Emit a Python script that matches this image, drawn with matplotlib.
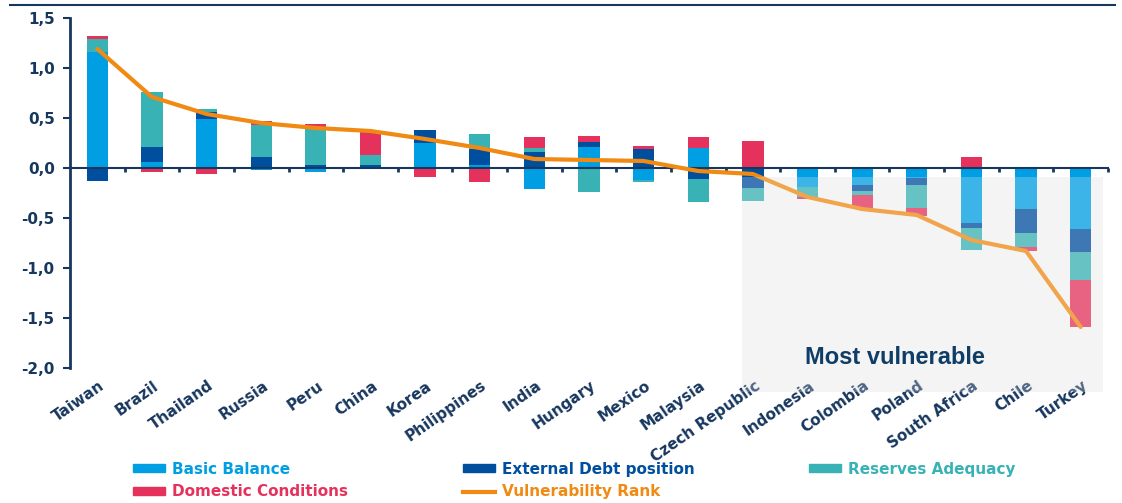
import numpy as np
import matplotlib
matplotlib.use("Agg")
from matplotlib import pyplot as plt
from matplotlib.patches import Rectangle, Patch
from matplotlib.lines import Line2D

countries = ["Taiwan", "Brazil", "Thailand", "Russia", "Peru", "China", "Korea",
             "Philippines", "India", "Hungary", "Mexico", "Malaysia", "Czech Republic",
             "Indonesia", "Colombia", "Poland", "South Africa", "Chile", "Turkey"]

basic_balance = [1.16, 0.06, 0.49, -0.02, -0.04, 0.00, 0.25, 0.03, -0.21, 0.21,
                 -0.12, 0.20, 0.00, -0.19, -0.17, -0.10, -0.55, -0.41, -0.61]
external_debt = [-0.13, 0.15, 0.07, 0.11, 0.03, 0.03, 0.13, 0.16, 0.16, 0.05,
                 0.19, -0.11, -0.20, 0.00, -0.06, -0.07, -0.05, -0.24, -0.23]
reserves = [0.13, 0.55, 0.03, 0.32, 0.36, 0.10, 0.00, 0.15, 0.04, -0.24,
            -0.02, -0.23, -0.13, -0.10, -0.04, -0.23, -0.22, -0.14, -0.28]
domestic = [0.03, -0.04, -0.06, 0.04, 0.05, 0.24, -0.09, -0.14, 0.11, 0.06,
            0.03, 0.11, 0.27, -0.02, -0.13, -0.08, 0.11, -0.04, -0.47]
vuln_rank = [1.19, 0.71, 0.54, 0.45, 0.40, 0.37, 0.29, 0.20, 0.09, 0.08,
             0.07, -0.03, -0.06, -0.29, -0.41, -0.47, -0.72, -0.83, -1.59]

series = [("Basic Balance", basic_balance, "#009FE3"),
          ("External Debt position", external_debt, "#004F9F"),
          ("Reserves Adequacy", reserves, "#38B2B5"),
          ("Domestic Conditions", domestic, "#E5325D")]
line_color = "#F08A12"
navy = "#17375E"

plt.rcParams["font.family"] = ["DejaVu Sans"]
plt.rcParams["font.weight"] = "bold"

fig = plt.figure(figsize=(11.22, 5.03), dpi=100)
ax = fig.add_axes([70 / 1122, 135 / 503, 1038 / 1122, 350 / 503])

x = np.arange(len(countries))
pos_bottom = np.zeros(len(countries))
neg_bottom = np.zeros(len(countries))
for name, vals, col in series:
    v = np.array(vals)
    bottom = np.where(v >= 0, pos_bottom, neg_bottom)
    ax.bar(x, v, 0.39, bottom=bottom, color=col, zorder=1)
    pos_bottom += np.where(v >= 0, v, 0)
    neg_bottom += np.where(v < 0, v, 0)

ax.plot(x, vuln_rank, color=line_color, lw=3, zorder=3, solid_capstyle="round")

# shaded "most vulnerable" zone
ax.add_patch(Rectangle((11.8, -2.24), 6.6, 2.15, facecolor="#F4F4F4",
                       edgecolor="none", zorder=0, clip_on=False))
ax.add_patch(Rectangle((11.8, -2.24), 6.6, 2.15, facecolor="#F4F4F4",
                       edgecolor="none", alpha=0.25, zorder=5, clip_on=False))
ax.text(14.6, -1.9, "Most vulnerable", ha="center", va="center", fontsize=17,
        family="Liberation Sans", weight="bold", color="#0F3D66", zorder=6)

ax.set_xlim(-0.5, 18.5)
ax.set_ylim(-2.0, 1.5)
yt = np.arange(-2.0, 1.51, 0.5)
ax.set_yticks(yt)
ax.set_yticklabels([f"{t:.1f}".replace(".", ",") for t in yt])
ax.tick_params(axis="y", direction="out", length=5, width=1.5, color=navy,
               labelcolor=navy, labelsize=11, pad=6)

ax.spines["top"].set_visible(False)
ax.spines["right"].set_visible(False)
ax.spines["left"].set_color(navy)
ax.spines["left"].set_linewidth(2)
ax.spines["bottom"].set_position(("data", 0))
ax.spines["bottom"].set_color(navy)
ax.spines["bottom"].set_linewidth(1.5)
ax.set_xticks(np.arange(0.5, 19, 1))
ax.set_xticklabels([])
ax.tick_params(axis="x", direction="out", length=3, width=2, color=navy)

for i, c in enumerate(countries):
    ax.text(i + 0.02, -2.1, c, rotation=35, rotation_mode="anchor", ha="right",
            va="top", fontsize=11, color=navy, zorder=4)

fig.add_artist(Line2D([10 / 1122, 1115 / 1122], [0.990, 0.990], color=navy, lw=1.5))

handles = [Patch(color=series[0][2]), Patch(color=series[3][2]),
           Patch(color=series[1][2]), Line2D([], [], color=line_color, lw=3),
           Patch(color=series[2][2])]
labels = [series[0][0], series[3][0], series[1][0], "Vulnerability Rank", series[2][0]]
text_cols = [series[0][2], series[3][2], series[1][2], line_color, series[2][2]]
leg = fig.legend(handles, labels, loc="upper left", bbox_to_anchor=(133 / 1122, 0.082),
                 ncol=3, frameon=False, fontsize=11, handlelength=2.1, handleheight=0.4,
                 handletextpad=0.45, columnspacing=7.5, labelspacing=0.5,
                 borderpad=0, borderaxespad=0)
for t, c in zip(leg.get_texts(), text_cols):
    t.set_color(c)

fig.savefig("out.png", dpi=100)
